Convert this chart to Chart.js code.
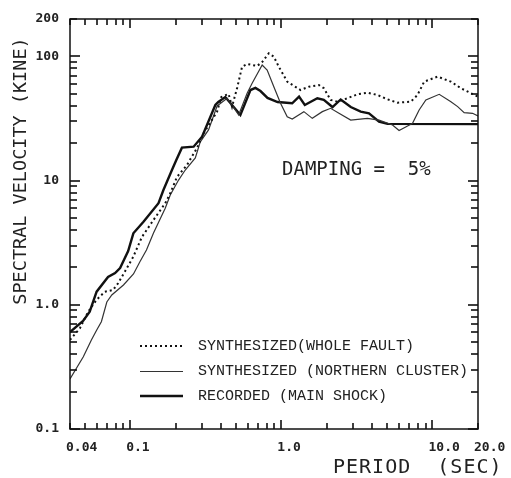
<!DOCTYPE html>
<html>
<head>
<meta charset="utf-8">
<script src="https://cdn.jsdelivr.net/npm/chart.js@4.4.1/dist/chart.umd.min.js"></script>
<style>
html, body { margin: 0; padding: 0; background: #fff; }
canvas { display: block; }
</style>
</head>
<body>
<canvas id="spectrumChart" width="511" height="478"></canvas>
<script>
// periods (sec) and spectral velocities (kine)
const wholeFaultPeriod = [0.04,0.0466,0.0526,0.0598,0.068,0.0771,0.0832,0.0922,0.1047,0.1196,
  0.1427,0.1706,0.1842,0.204,0.2376,0.2769,0.306,0.376,0.401,0.448,
  0.472,0.51,0.55,0.594,0.692,0.747,0.826,0.892,0.962,1.094,
  1.34,1.522,1.773,1.913,2.119,2.348,2.736,3.186,3.71,4.32,
  5.04,5.87,7.19,7.96,8.81,10.81,13.24,15.43,17.98,20];
const wholeFaultVel = [0.521,0.65,0.875,1.093,1.275,1.316,1.49,1.848,2.426,3.515,
  4.82,6.57,7.9,10.69,13.36,18.3,24.0,35.9,47.1,49.8,
  39.4,55.7,82.6,86.9,83.7,90.1,105.9,99.5,82.6,62.6,
  53.6,57.0,58.8,55.4,44.6,43.2,46.0,49.5,51.0,48.9,
  45.1,42.4,43.2,48.9,62.6,68.7,62.6,55.4,50.5,47.4];

const northernPeriod = [0.04,0.049,0.0554,0.0601,0.0645,0.0701,0.0756,0.0903,0.1052,0.116,
  0.1282,0.1427,0.1706,0.1842,0.209,0.2315,0.2698,0.291,0.33,0.376,
  0.438,0.472,0.522,0.594,0.641,0.747,0.806,0.892,0.988,1.094,
  1.181,1.41,1.603,1.868,2.119,2.406,2.877,3.71,4.43,5.44,
  6.01,6.84,7.38,8.16,9.04,11.08,13.24,14.67,16.2,18.4,20];
const northernVel = [0.253,0.382,0.521,0.627,0.731,1.053,1.199,1.443,1.77,2.223,
  2.762,3.785,5.98,7.66,10.1,12.17,15.2,20.5,25.6,39.9,
  46.0,40.6,33.7,50.5,60.7,85.3,77.7,57.0,41.9,32.7,
  31.3,35.9,31.7,35.9,38.2,34.8,30.7,31.7,30.7,28.0,
  25.3,27.5,28.9,37.0,44.6,49.5,43.2,39.4,35.2,34.8,33.1];

const recordedPeriod = [0.04,0.0488,0.054,0.06,0.0714,0.0795,0.0858,0.097,0.105,0.1225,
  0.154,0.166,0.189,0.202,0.22,0.263,0.299,0.366,0.383,0.426,
  0.472,0.536,0.625,0.674,0.728,0.81,0.944,1.18,1.31,1.43,
  1.73,1.91,2.18,2.47,2.88,3.35,3.8,4.43,5.04,20];
const recordedVel = [0.604,0.741,0.88,1.275,1.674,1.803,1.979,2.712,3.764,4.67,
  6.57,8.4,12.17,14.65,18.41,18.75,22.57,40.6,42.9,47.1,
  40.6,33.7,53.6,55.7,52.6,46.3,42.9,41.9,47.4,40.6,
  46.0,44.6,39.1,45.0,39.1,35.9,34.8,29.8,28.6,28.5];

const seriesLabels = ["SYNTHESIZED(WHOLE FAULT)", "SYNTHESIZED (NORTHERN CLUSTER)", "RECORDED (MAIN SHOCK)"];

const xTickValues = [0.04, 0.1, 1, 10, 20];
const xTickLabels = ["0.04", "0.1", "1.0", "10.0", "20.0"];
const yTickValues = [0.1, 1, 10, 100, 200];
const yTickLabels = ["0.1", "1.0", "10", "100", "200"];

const toPoints = (xs, ys) => xs.map((v, i) => ({x: v, y: ys[i]}));

// every m*10^d inside [min,max], flagged as major when m == 1
function logSteps(min, max) {
  const out = [];
  for (let d = Math.floor(Math.log10(min)); d <= Math.ceil(Math.log10(max)); d++) {
    for (let m = 1; m <= 9; m++) {
      const v = m * Math.pow(10, d);
      if (v >= min * 0.999 && v <= max * 1.001) out.push([v, m === 1]);
    }
  }
  return out;
}

// box and inward tick marks on all four sides
const framePlugin = {
  id: "frame",
  afterDraw(chart) {
    const ctx = chart.ctx;
    const a = chart.chartArea;
    const sx = chart.scales.x, sy = chart.scales.y;
    const w = 1.6;
    ctx.save();
    ctx.setLineDash([]);
    ctx.strokeStyle = "#111";
    ctx.fillStyle = "#111";
    ctx.lineWidth = 1.5;
    ctx.strokeRect(a.left, a.top, a.right - a.left, a.bottom - a.top);

    logSteps(sx.min, sx.max).forEach(([v, major]) => {
      const p = Math.round(sx.getPixelForValue(v));
      const len = major ? 9 : 6;
      ctx.fillRect(p - w / 2, a.bottom - len, w, len);
      ctx.fillRect(p - w / 2, a.top, w, len);
    });
    logSteps(sy.min, sy.max).forEach(([v, major]) => {
      const p = Math.round(sy.getPixelForValue(v));
      const len = major ? 10 : 7;
      ctx.fillRect(a.left, p - w / 2, len, w);
      ctx.fillRect(a.right - len, p - w / 2, len, w);
    });
    ctx.restore();
  }
};

// titles, damping note and legend
const textPlugin = {
  id: "texts",
  afterDraw(chart) {
    const ctx = chart.ctx;
    ctx.save();
    ctx.fillStyle = "#222";
    ctx.textBaseline = "middle";

    ctx.font = "18.5px 'DejaVu Sans Mono'";
    ctx.save();
    ctx.translate(21, 171);
    ctx.rotate(-Math.PI / 2);
    ctx.textAlign = "center";
    ctx.fillText("SPECTRAL VELOCITY (KINE)", 0, 0);
    ctx.restore();

    ctx.font = "20px 'DejaVu Sans Mono'";
    ctx.textAlign = "left";
    ctx.letterSpacing = "1px";
    ctx.fillText("PERIOD  (SEC)", 333, 468);
    ctx.letterSpacing = "0px";

    ctx.font = "19px 'DejaVu Sans Mono'";
    ctx.fillText("DAMPING =  5%", 282, 170);

    const rows = [346, 371.5, 396];
    ctx.font = "15px 'Liberation Mono'";
    chart.data.datasets.forEach((ds, i) => {
      ctx.save();
      ctx.strokeStyle = ds.borderColor;
      ctx.lineWidth = ds.borderWidth;
      ctx.setLineDash(ds.borderDash || []);
      ctx.beginPath();
      ctx.moveTo(140, rows[i]);
      ctx.lineTo(183, rows[i]);
      ctx.stroke();
      ctx.restore();
      ctx.fillText(ds.label, 198, rows[i]);
    });
    ctx.restore();
  }
};

const tickFont = {family: "DejaVu Sans Mono", size: 13, weight: "bold"};

new Chart(document.getElementById("spectrumChart"), {
  type: "line",
  data: {
    datasets: [
      {
        label: seriesLabels[0],
        data: toPoints(wholeFaultPeriod, wholeFaultVel),
        borderColor: "#111",
        borderWidth: 2,
        borderDash: [2, 3]
      },
      {
        label: seriesLabels[1],
        data: toPoints(northernPeriod, northernVel),
        borderColor: "#333",
        borderWidth: 1.2
      },
      {
        label: seriesLabels[2],
        data: toPoints(recordedPeriod, recordedVel),
        borderColor: "#111",
        borderWidth: 2.4
      }
    ]
  },
  options: {
    responsive: false,
    animation: false,
    devicePixelRatio: 1,
    layout: {padding: {top: 19, right: 33, left: 0, bottom: 0}},
    elements: {point: {radius: 0}, line: {tension: 0, fill: false}},
    plugins: {legend: {display: false}, tooltip: {enabled: false}},
    scales: {
      x: {
        type: "logarithmic",
        min: 0.04,
        max: 20,
        afterBuildTicks: s => { s.ticks = xTickValues.map(v => ({value: v})); },
        afterFit: s => { s.height = 49; s.paddingLeft = 0; s.paddingRight = 0; },
        grid: {display: false, drawTicks: false},
        border: {display: false},
        ticks: {
          autoSkip: false, maxRotation: 0, align: "start", labelOffset: -4,
          padding: 11, color: "#222", font: tickFont,
          callback: (v, i) => xTickLabels[i]
        }
      },
      y: {
        type: "logarithmic",
        min: 0.1,
        max: 200,
        afterBuildTicks: s => { s.ticks = yTickValues.map(v => ({value: v})); },
        afterFit: s => { s.width = 70; s.paddingTop = 0; s.paddingBottom = 0; },
        grid: {display: false, drawTicks: false},
        border: {display: false},
        ticks: {
          autoSkip: false, padding: 11, color: "#222", font: tickFont,
          callback: (v, i) => yTickLabels[i]
        }
      }
    }
  },
  plugins: [framePlugin, textPlugin]
});
</script>
</body>
</html>
